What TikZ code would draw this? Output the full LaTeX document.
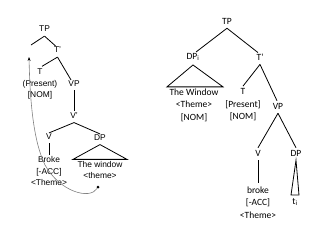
\documentclass[tikz,border=0pt]{standalone}
\usepackage{fontspec}
\setmainfont{Liberation Sans}
\newfontfamily\rfont{Carlito}
\usetikzlibrary{arrows.meta}
\begin{document}
\begin{tikzpicture}[x=1pt,y=-1pt,
  lt/.style={font=\fontsize{8.4}{11.7}\selectfont, inner sep=0pt, align=center},
  rt/.style={font=\rfont\fontsize{9.5}{12.5}\selectfont, inner sep=0pt, align=center},
  edge/.style={line width=0.8pt},
  mv/.style={draw=gray, line width=0.6pt, -{Stealth[length=4pt,width=3pt,black]}}]
\useasboundingbox[fill=white] (0,0) rectangle (330,236);
% ---------- left tree ----------
\node[lt] (ltp) at (44.5,29) {TP};
\coordinate (llc) at (31,45);
\node[lt] (ltb) at (57.5,50) {T'};
\node[lt] (lt) at (40,84) {T\\(Present)\\{[NOM]}};
\node[lt] (lvp) at (74,84) {VP};
\node[lt] (lvb) at (74,116) {V'};
\node[lt] (lv) at (49,137) {V};
\node[lt] (ldp) at (100,138) {DP};
\node[lt] (lbr) at (49,171) {Broke\\{[-ACC]}\\<Theme>};
\node[lt] (ltw) at (100,170) {The window\\<theme>};
\node[circle, fill, inner sep=0pt, minimum size=3pt] (dot) at (98,187) {};
\coordinate (arr) at (29,57);
\draw[edge] ([yshift=-4pt]ltp.south) -- (llc);
\draw[edge] ([yshift=-4pt]ltp.south) -- ([xshift=-2pt,yshift=1pt]ltb.north);
\draw[edge] ([yshift=-4pt]ltb.south) -- ([xshift=2pt,yshift=2pt]lt.north);
\draw[edge] ([yshift=-4pt]ltb.south) -- ([xshift=-3pt,yshift=1pt]lvp.north);
\draw[edge] ([yshift=-3pt]lvp.south) -- ([yshift=2pt]lvb.north);
\draw[edge] ([yshift=-3.5pt]lvb.south) -- ([yshift=1pt]lv.north);
\draw[edge] ([yshift=-3.5pt]lvb.south) -- ([yshift=1pt]ldp.north);
\draw[edge] ([yshift=-3pt]lv.south) -- ([yshift=1.5pt]lbr.north);
\draw[edge] ([yshift=-3.5pt]ldp.south) -- ([xshift=-27pt,yshift=1.5pt]ltw.north)
  -- ([xshift=27pt,yshift=1.5pt]ltw.north) -- cycle;
\draw[mv] (dot) .. controls (90,200) and (60,192) .. (45,165)
  .. controls (33,140) and (30,100) .. (arr);
% ---------- right tree ----------
\node[rt] (rtp) at (227,21) {TP};
\node[rt] (rdp) at (193,57) {DP\textsubscript{i}};
\node[rt] (rtb) at (260,57) {T'};
\node[rt] (rtw) at (194,105) {The Window\\<Theme>\\{[NOM]}};
\node[rt] (rt) at (243,105) {T\\{[Present]}\\{[NOM]}};
\node[rt] (rvp) at (278,106) {VP};
\node[rt] (rv) at (258,153) {V};
\node[rt] (rdp2) at (296,153) {DP};
\node[rt] (rbr) at (258,202.5) {broke\\{[-ACC]}\\<Theme>};
\node[rt] (rti) at (295,202) {t\textsubscript{i}};
\draw[edge] ([yshift=-4pt]rtp.south) -- ([xshift=3pt,yshift=1pt]rdp.north);
\draw[edge] ([yshift=-4pt]rtp.south) -- ([xshift=-2pt,yshift=1pt]rtb.north);
\draw[edge] ([yshift=-4pt]rdp.south) -- ([xshift=-27pt,yshift=1.5pt]rtw.north)
  -- ([xshift=29pt,yshift=1.5pt]rtw.north) -- cycle;
\draw[edge] ([yshift=-4pt]rtb.south) -- ([xshift=0pt,yshift=2.5pt]rt.north);
\draw[edge] ([yshift=-4pt]rtb.south) -- ([xshift=-1pt,yshift=2pt]rvp.north);
\draw[edge] ([yshift=-4pt]rvp.south) -- ([yshift=2pt]rv.north);
\draw[edge] ([yshift=-4pt]rvp.south) -- ([yshift=2pt]rdp2.north);
\draw[edge] ([yshift=-4pt]rv.south) -- ([yshift=3pt]rbr.north);
\draw[edge] ([yshift=-4pt]rdp2.south) -- ([xshift=-4pt,yshift=3pt]rti.north)
  -- ([xshift=4pt,yshift=3pt]rti.north) -- cycle;
\end{tikzpicture}
\end{document}
